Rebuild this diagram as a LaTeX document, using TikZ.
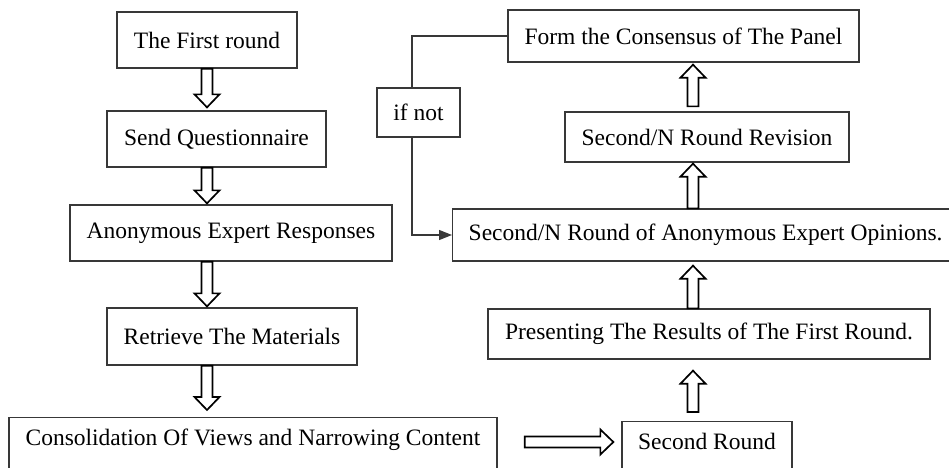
\documentclass[tikz,border=0pt]{standalone}
\usepackage{fontspec}
\setmainfont{Liberation Serif}
\usetikzlibrary{calc,arrows.meta}

% hollow block arrow from #1 (tail) to #2 (tip)
\newcommand{\fatarrow}[2]{%
  \coordinate (fa-t) at (#1);
  \coordinate (fa-h) at (#2);
  \coordinate (fa-b) at ($(fa-h)!13pt!(fa-t)$);
  \draw[fat] ($(fa-t)!5.5pt!90:(fa-h)$) -- ($(fa-b)!5.5pt!90:(fa-h)$)
    -- ($(fa-b)!12.5pt!90:(fa-h)$) -- (fa-h) -- ($(fa-b)!12.5pt!-90:(fa-h)$)
    -- ($(fa-b)!5.5pt!-90:(fa-h)$) -- ($(fa-t)!5.5pt!-90:(fa-h)$) -- cycle;}

\begin{document}
\begin{tikzpicture}[x=1pt,y=-1pt]
\tikzstyle{box}=[rectangle, draw=black!78, line width=1.3pt, inner sep=0pt, font=\fontsize{23.5}{28}\selectfont]
\tikzstyle{connect}=[-{Triangle[length=13pt,width=10pt]}, line width=1.3pt, draw=black!78]
\tikzstyle{line}=[line width=1.3pt, draw=black!78]
\tikzstyle{fat}=[draw=black, line width=1.7pt, fill=white, line join=miter]
\useasboundingbox (0,0) rectangle (949,467);
\clip (0,0) rectangle (949,467);
\coordinate (colL) at (207,0);
\coordinate (colR) at (693,0);
\coordinate (ifx) at (412,0);
\coordinate (rowB) at (0,442);

% left column
\node[box, minimum width=180pt, minimum height=56pt] (first) at (207,40) {The First round};
\node[box, minimum width=219pt, minimum height=56pt] (send) at (216.5,139) {Send Questionnaire};
\node[box, minimum width=322pt, minimum height=56pt] (anon) at (231,233) {Anonymous Expert Responses};
\node[box, minimum width=250pt, minimum height=57pt] (retrieve) at (232,336.5) {Retrieve The Materials};
\node[box, minimum width=488pt, minimum height=60pt, text depth=21pt, anchor=north] (consol) at (253,417) {Consolidation Of Views and Narrowing Content};

% right column
\node[box, minimum width=170pt, minimum height=60pt, text depth=21pt, anchor=north] (second) at (707,421) {Second Round};
\node[box, minimum width=442pt, minimum height=50pt] (present) at (709,334) {Presenting The Results of The First Round.};
\node[box, minimum width=530pt, minimum height=52pt, anchor=west] (secondn) at (452,235) {\hspace*{-24pt}Second/N Round of Anonymous Expert Opinions.};
\node[box, minimum width=284pt, minimum height=50pt] (revision) at (707,137) {Second/N Round Revision};
\node[box, minimum width=351pt, minimum height=52pt] (form) at (683.5,36) {Form the Consensus of The Panel};
\node[box, minimum width=83pt, minimum height=49pt] (ifnot) at (418.5,112.5) {if not};

\fatarrow{colL |- first.south}{$(colL |- send.north)+(0,-3)$}
\fatarrow{colL |- send.south}{$(colL |- anon.north)+(0,-1)$}
\fatarrow{colL |- anon.south}{$(colL |- retrieve.north)+(0,-1)$}
\fatarrow{colL |- retrieve.south}{$(colL |- consol.north)+(0,-7)$}
\fatarrow{$(consol.east |- rowB)+(27,0)$}{$(second.west |- rowB)+(-8,0)$}
\fatarrow{$(colR |- second.north)+(0,-9)$}{$(colR |- present.south)+(0,11)$}
\fatarrow{colR |- present.north}{$(colR |- secondn.south)+(0,4)$}
\fatarrow{colR |- secondn.north}{$(colR |- revision.south)+(0,1)$}
\fatarrow{$(colR |- revision.north)+(0,-5)$}{$(colR |- form.south)+(0,2)$}

\draw[line] (form.west) -| (ifx |- ifnot.north);
\draw[connect] (ifx |- ifnot.south) |- (secondn.west);
\end{tikzpicture}
\end{document}
